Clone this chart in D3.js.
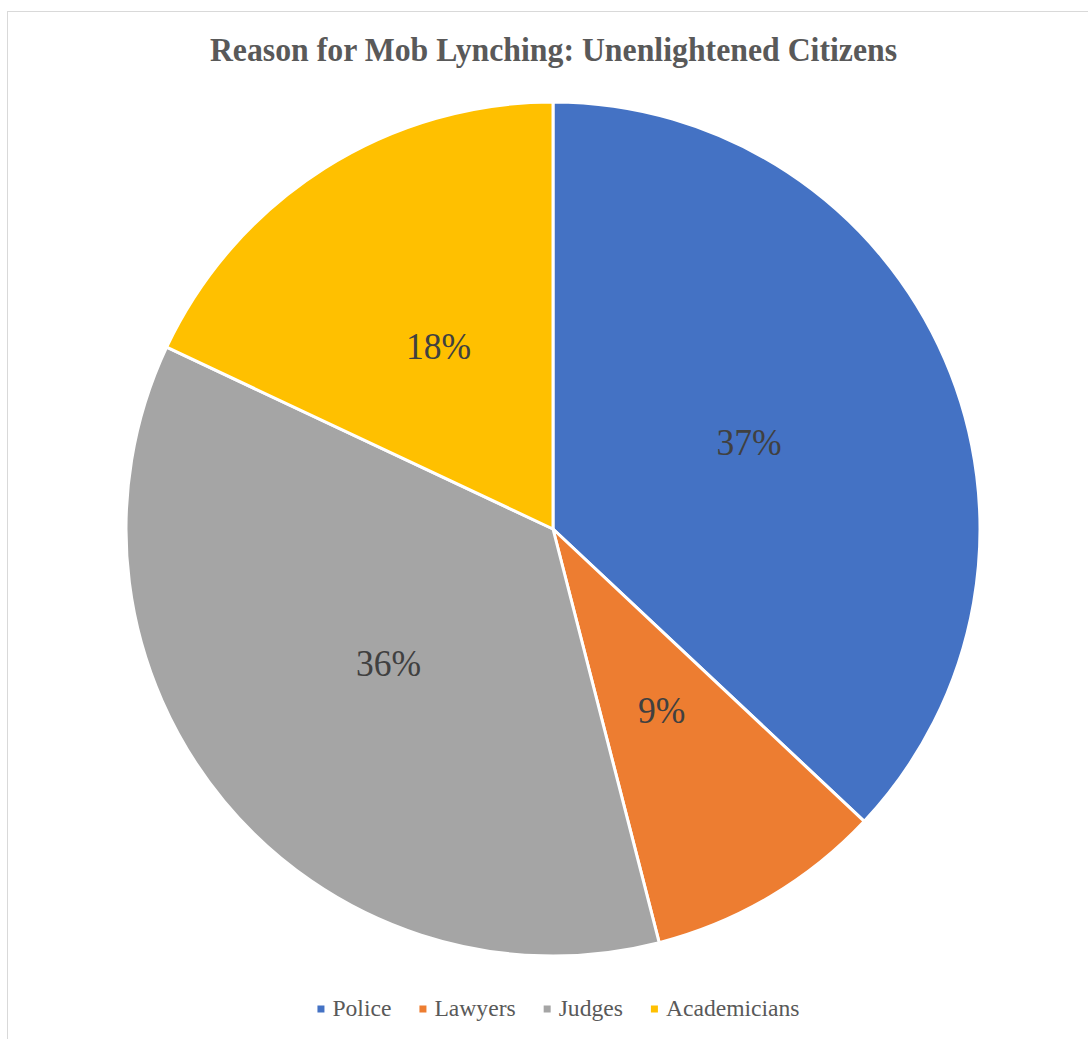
<!DOCTYPE html>
<html>
<head>
<meta charset="utf-8">
<script src="https://cdn.jsdelivr.net/npm/d3@7"></script>
<style>
  body { margin: 0; background: #fff; }
  #chart { display: block; }
  #chart text { font-family: "Liberation Serif", "Times New Roman", Times, serif; }
  #chart .title { font-weight: bold; font-size: 34px; fill: #595959; }
  #chart .pct { font-size: 38px; fill: #404040; }
  #chart .leg { font-size: 23.6px; fill: #595959; }
</style>
</head>
<body>
<svg id="chart" width="1088" height="1039"></svg>
<script>
// Survey shares by group
const categories = ["Police", "Lawyers", "Judges", "Academicians"];
const shares = [37, 9, 36, 18];
const colors = ["#4472C4", "#ED7D31", "#A5A5A5", "#FFC000"];
const titleText = "Reason for Mob Lynching: Unenlightened Citizens";

const svg = d3.select("#chart");
const W = 1088, H = 1039;
const squeeze = 0.935; // narrow glyph width used for title and data labels

// chart area border
svg.append("rect")
  .attr("x", 7.5).attr("y", 11.5)
  .attr("width", W + 20).attr("height", H + 20)
  .attr("fill", "#fff")
  .attr("stroke", "#d9d9d9").attr("stroke-width", 1);

// title
svg.append("text")
  .attr("class", "title")
  .attr("transform", `translate(553.5,61) scale(${squeeze},1)`)
  .attr("text-anchor", "middle")
  .text(titleText);

const cx = 553, cy = 529, R = 427;
const data = categories.map((c, i) => ({ name: c, value: shares[i], color: colors[i] }));

const pie = d3.pie().value(d => d.value).sort(null);
const arc = d3.arc().innerRadius(0).outerRadius(R);
const arcs = pie(data);

const g = svg.append("g").attr("transform", `translate(${cx},${cy})`);

g.selectAll("path.slice")
  .data(arcs)
  .join("path")
  .attr("class", "slice")
  .attr("d", arc)
  .attr("fill", d => d.data.color)
  .attr("stroke", "#fff")
  .attr("stroke-width", 3)
  .attr("stroke-linejoin", "round");

const total = d3.sum(shares);
g.selectAll("text.pct")
  .data(arcs)
  .join("text")
  .attr("class", "pct")
  .attr("transform", d => {
    const [x, y] = arc.centroid(d);
    return `translate(${x},${y}) scale(${squeeze},1)`;
  })
  .attr("text-anchor", "middle")
  .attr("dy", "0.28em")
  .text(d => Math.round(d.data.value / total * 100) + "%");

// legend
const legend = svg.append("g");
const sq = 7, sqGap = 8, itemGap = 28;
const items = legend.selectAll("g.item").data(data).join("g").attr("class", "item");
items.append("rect")
  .attr("width", sq).attr("height", sq)
  .attr("y", -sq / 2)
  .attr("fill", d => d.color);
items.append("text")
  .attr("class", "leg")
  .attr("x", sq + sqGap)
  .attr("dy", "0.3em")
  .text(d => d.name);

const widths = [];
items.each(function () { widths.push(this.getBBox().width); });
const totalW = d3.sum(widths) + itemGap * (widths.length - 1);
let xPos = 0;
items.attr("transform", (d, i) => {
  const x = xPos;
  xPos += widths[i] + itemGap;
  return `translate(${x},0)`;
});
legend.attr("transform", `translate(${(317 + 800) / 2 - totalW / 2},1009)`);
</script>
</body>
</html>
